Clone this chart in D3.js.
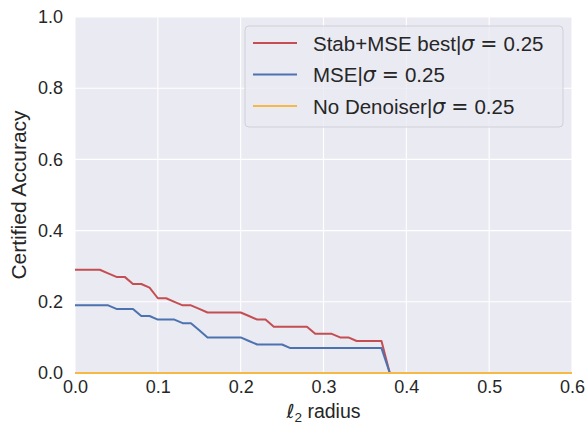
<!DOCTYPE html>
<html>
<head>
<meta charset="utf-8">
<script src="https://cdn.jsdelivr.net/npm/d3@7"></script>
<style>
  body { margin: 0; background: #fff; }
  text { font-family: "Liberation Sans", Arial, sans-serif; fill: #262626; }
</style>
</head>
<body>
<script>
// radius grid and certified accuracy values
var radii = [0.00, 0.01, 0.02, 0.03, 0.04, 0.05, 0.06, 0.07, 0.08, 0.09,
             0.10, 0.11, 0.12, 0.13, 0.14, 0.15, 0.16, 0.17, 0.18, 0.19,
             0.20, 0.21, 0.22, 0.23, 0.24, 0.25, 0.26, 0.27, 0.28, 0.29,
             0.30, 0.31, 0.32, 0.33, 0.34, 0.35, 0.36, 0.37, 0.38];
var stabAcc = [0.29, 0.29, 0.29, 0.29, 0.28, 0.27, 0.27, 0.25, 0.25, 0.24,
               0.21, 0.21, 0.20, 0.19, 0.19, 0.18, 0.17, 0.17, 0.17, 0.17,
               0.17, 0.16, 0.15, 0.15, 0.13, 0.13, 0.13, 0.13, 0.13, 0.11,
               0.11, 0.11, 0.10, 0.10, 0.09, 0.09, 0.09, 0.09, 0.00];
var mseAcc = [0.19, 0.19, 0.19, 0.19, 0.19, 0.18, 0.18, 0.18, 0.16, 0.16,
              0.15, 0.15, 0.15, 0.14, 0.14, 0.12, 0.10, 0.10, 0.10, 0.10,
              0.10, 0.09, 0.08, 0.08, 0.08, 0.08, 0.07, 0.07, 0.07, 0.07,
              0.07, 0.07, 0.07, 0.07, 0.07, 0.07, 0.07, 0.07, 0.00];
var noDenoiserR = [0.0, 0.6];
var noDenoiserAcc = [0.0, 0.0];

var seriesNames = ["Stab+MSE best", "MSE", "No Denoiser"];
var seriesColors = ["#c44e52", "#4c72b0", "#f6b946"];
var xTicks = [0.0, 0.1, 0.2, 0.3, 0.4, 0.5, 0.6];
var yTicks = [0.0, 0.2, 0.4, 0.6, 0.8, 1.0];

var width = 588, height = 426;
var margin = {left: 75, right: 16, top: 17, bottom: 53};

var svg = d3.select("body").append("svg")
    .attr("width", width)
    .attr("height", height);

var x = d3.scaleLinear().domain([0, 0.6]).range([margin.left, width - margin.right]);
var y = d3.scaleLinear().domain([0, 1]).range([height - margin.bottom, margin.top]);

// background
svg.append("rect")
    .attr("x", x(0)).attr("y", y(1))
    .attr("width", x(0.6) - x(0)).attr("height", y(0) - y(1))
    .attr("fill", "#eaeaf2");

// grid
svg.append("g").selectAll("line").data(xTicks).enter().append("line")
    .attr("x1", function(d) { return x(d); }).attr("x2", function(d) { return x(d); })
    .attr("y1", y(0)).attr("y2", y(1))
    .attr("stroke", "#fff").attr("stroke-width", 1.1);
svg.append("g").selectAll("line").data(yTicks).enter().append("line")
    .attr("x1", x(0)).attr("x2", x(0.6))
    .attr("y1", function(d) { return y(d); }).attr("y2", function(d) { return y(d); })
    .attr("stroke", "#fff").attr("stroke-width", 1.1);

// axes (labels only, seaborn style)
svg.append("g")
    .attr("transform", "translate(0," + y(0) + ")")
    .call(d3.axisBottom(x).tickValues(xTicks).tickFormat(d3.format(".1f")).tickSize(0).tickPadding(7));
svg.append("g")
    .attr("transform", "translate(" + x(0) + ",0)")
    .call(d3.axisLeft(y).tickValues(yTicks).tickFormat(d3.format(".1f")).tickSize(0).tickPadding(12));
svg.selectAll(".tick text")
    .attr("font-size", 18)
    .attr("font-family", "Liberation Sans, Arial, sans-serif")
    .attr("fill", "#262626");
svg.selectAll(".domain").remove();

// lines
var line = d3.line()
    .x(function(d) { return x(d[0]); })
    .y(function(d) { return y(d[1]); });

var seriesData = [
    d3.zip(radii, stabAcc),
    d3.zip(radii, mseAcc),
    d3.zip(noDenoiserR, noDenoiserAcc)
];

svg.append("g").selectAll("path").data(seriesData).enter().append("path")
    .attr("d", line)
    .attr("fill", "none")
    .attr("stroke", function(d, i) { return seriesColors[i]; })
    .attr("stroke-width", 2)
    .attr("stroke-linejoin", "round");

// axis titles
svg.append("text")
    .attr("x", (x(0) + x(0.6)) / 2).attr("y", 418)
    .attr("text-anchor", "middle")
    .attr("font-size", 19.5)
    .html('<tspan font-family="DejaVu Sans" font-style="italic">ℓ</tspan><tspan font-size="13.5" dy="4">2</tspan><tspan dy="-4"> radius</tspan>');

svg.append("text")
    .attr("transform", "translate(26," + ((y(0) + y(1)) / 2) + ") rotate(-90)")
    .attr("text-anchor", "middle")
    .attr("font-size", 21)
    .text("Certified Accuracy");

// legend
var legend = svg.append("g");
legend.append("rect")
    .attr("x", 245).attr("y", 26)
    .attr("width", 318).attr("height", 101)
    .attr("rx", 4)
    .attr("fill", "#eaeaf2").attr("fill-opacity", 0.8)
    .attr("stroke", "#d0d0d8");

var rows = legend.selectAll("g.row").data(seriesNames).enter().append("g")
    .attr("class", "row")
    .attr("transform", function(d, i) { return "translate(0," + (43 + i * 31.5) + ")"; });
rows.append("line")
    .attr("x1", 253).attr("x2", 297)
    .attr("stroke", function(d, i) { return seriesColors[i]; })
    .attr("stroke-width", 2);
rows.append("text")
    .attr("x", 313).attr("y", 7.5)
    .attr("font-size", 20.5)
    .html(function(d) {
        return d + '|<tspan font-family="DejaVu Sans" font-style="italic">σ</tspan><tspan font-family="DejaVu Sans" dx="6">=</tspan><tspan dx="6">0.25</tspan>';
    });
</script>
</body>
</html>
